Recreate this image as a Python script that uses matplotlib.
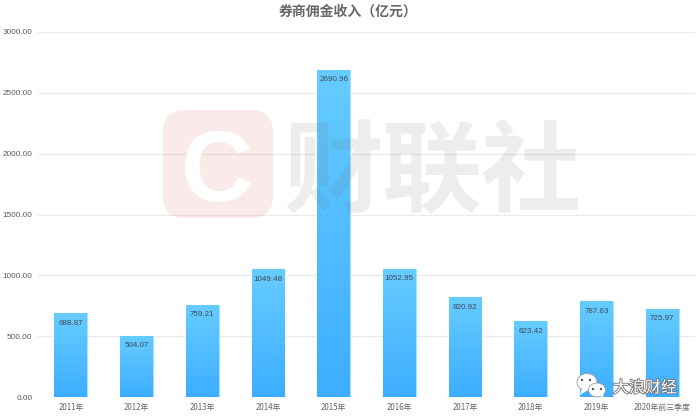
import numpy as np
import matplotlib
matplotlib.use("Agg")
import matplotlib.pyplot as plt
from matplotlib.colors import LinearSegmentedColormap
from matplotlib.patches import FancyBboxPatch, Ellipse, Polygon
import matplotlib.patheffects as pe

plt.rcParams['font.family'] = ['Noto Sans CJK SC', 'DejaVu Sans']

labels = ['2011年', '2012年', '2013年', '2014年', '2015年', '2016年',
          '2017年', '2018年', '2019年', '2020年前三季度']
values = [688.87, 504.07, 759.21, 1049.48, 2690.96, 1052.95,
          820.92, 623.42, 787.63, 725.97]
yticks = [0, 500, 1000, 1500, 2000, 2500, 3000]

fig = plt.figure(figsize=(7, 4.17), dpi=100)
ax = fig.add_axes([38/700, 1-397/417, 657/700, 365/417])

x = np.arange(len(values))
bars = ax.bar(x, values, width=0.5, color='#55C5FF', edgecolor='#A8E2FF',
              linewidth=0.8, zorder=2)

# gradient runs top to bottom inside each bar
cmap = LinearSegmentedColormap.from_list('bar', ['#66CCFF', '#3DAEFF'])
grad = np.linspace(0, 1, 100).reshape(-1, 1)
for b in bars:
    im = ax.imshow(grad, cmap=cmap, aspect='auto', zorder=2.5,
                   extent=[b.get_x(), b.get_x()+b.get_width(), 0, b.get_height()])
    im.set_clip_path(b)

for i, v in enumerate(values):
    ax.annotate(f"{v:.2f}", (i, v), xytext=(0, -10), textcoords='offset pixels',
                ha='center', va='center', fontsize=5.8, color='#3F4A55',
                family='Liberation Sans', zorder=4)

ax.set_xlim(-0.5, len(values)-0.5)
ax.set_ylim(0, 3000)
ax.set_xticks(x)
ax.set_xticklabels(labels, fontsize=5.7, color='#666666')
ax.set_yticks(yticks)
ax.set_yticklabels([f"{t:.2f}" for t in yticks], fontsize=5.9, color='#5A5A5A',
                   family='Liberation Sans')
ax.tick_params(length=0, pad=4)
ax.tick_params(axis='y', pad=4)
ax.grid(axis='y', color='#EAEAEA', linewidth=0.9, zorder=1)
ax.set_axisbelow(True)
for s in ax.spines.values():
    s.set_visible(False)

fig.text(348/700, 1-12/417, '券商佣金收入（亿元）', ha='center', va='center',
         fontsize=10, fontweight='bold', color='#666666')

# watermark and wechat badge sit on top of the chart, in pixel coordinates
ov = fig.add_axes([0, 0, 1, 1], facecolor='none')
ov.set_xlim(0, 700)
ov.set_ylim(417, 0)
ov.axis('off')
ov.add_patch(FancyBboxPatch((178, 125), 80, 78, boxstyle='round,pad=15,rounding_size=22',
                            fc='#E06060', ec='none', alpha=0.13))
ov.text(217, 164, 'C', fontsize=72, fontweight='bold', color='white', ha='center',
        va='center_baseline', family='Liberation Sans')
for cx, ch in zip([333, 431, 530], '财联社'):
    ov.text(cx, 163, ch, fontsize=72, fontweight='black', color='#707070', alpha=0.12,
            ha='center', va='center_baseline')

ov.add_patch(Ellipse((587, 382), 20, 17, fc='white', ec='#999999', lw=0.6))
ov.add_patch(Polygon([[582, 388], [580, 395], [588, 390]], fc='white', ec='none'))
ov.add_patch(Ellipse((597, 390), 17, 14, fc='white', ec='#999999', lw=0.6))
ov.add_patch(Polygon([[600, 395], [604, 400], [603, 393]], fc='white', ec='none'))
for ex, ey in [(582, 380), (590, 380), (593, 389), (601, 389)]:
    ov.add_patch(Ellipse((ex, ey), 2.4, 2.4, fc='#555555', ec='none'))
ov.text(645, 388, '大浪财经', fontsize=11.5, color='white', ha='center', va='center',
        path_effects=[pe.withStroke(linewidth=1.3, foreground='#777777')])

fig.savefig('out.png', dpi=100)
